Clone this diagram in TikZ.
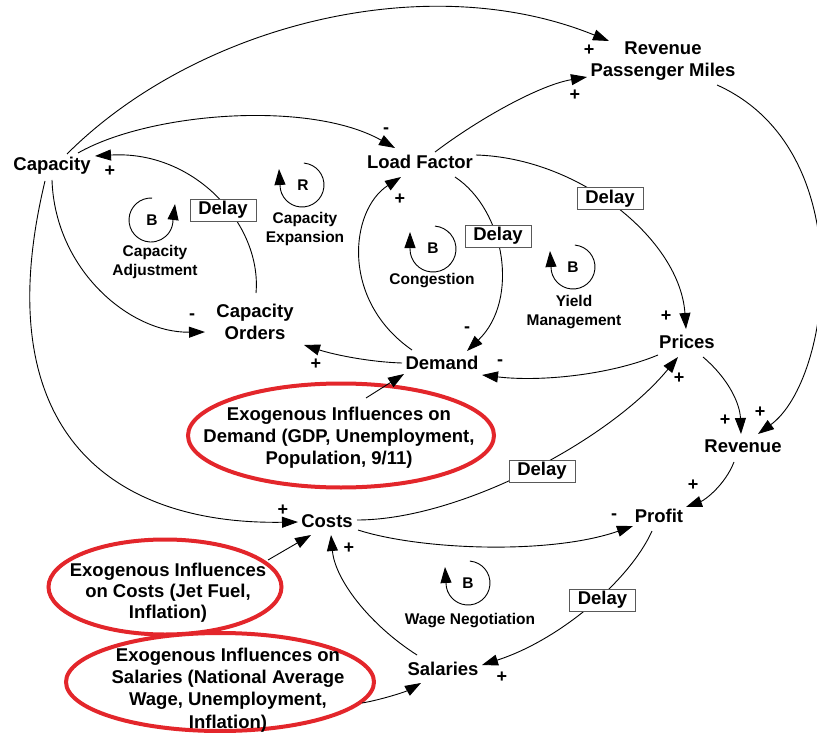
\documentclass[tikz,border=0pt]{standalone}
\usepackage{fontspec}
\setmainfont{Liberation Sans}
\usetikzlibrary{arrows.meta,shapes.geometric}
\definecolor{exored}{HTML}{E3262B}
\begin{document}
\begin{tikzpicture}[x=1pt,y=-1pt,
  var/.style={font=\fontsize{18.5}{22}\selectfont\bfseries, align=center, inner sep=1pt},
  sign/.style={font=\fontsize{18}{18}\selectfont\bfseries, inner sep=0pt},
  looplbl/.style={font=\fontsize{15.5}{18.8}\selectfont\bfseries, align=center, inner sep=0pt},
  loopletter/.style={font=\fontsize{15.5}{15.5}\selectfont\bfseries, inner sep=0pt},
  delaybox/.style={draw=black!65, line width=0.9pt, fill=white,
    font=\fontsize{18.5}{18.5}\selectfont\bfseries,
    minimum width=66pt, minimum height=22pt, inner sep=0pt},
  exo/.style={draw=exored, line width=4pt, ellipse, inner sep=0pt},
  exotext/.style={font=\fontsize{18.5}{22.2}\selectfont\bfseries, align=center, inner sep=0pt},
  link/.style={line width=0.9pt, -{Triangle[length=16pt,width=11pt]}},
  loopline/.style={line width=0.9pt, -{Triangle[length=16pt,width=11pt]}},
]
\useasboundingbox (0,0) rectangle (817,733);
\clip (0,0) rectangle (817,733);

% exogenous influences
\node[exo, minimum width=306pt, minimum height=104pt] (exd) at (341,435.5) {};
\node[exotext] (exdT) at (339,437.5) {Exogenous Influences on\\Demand (GDP, Unemployment,\\Population, 9/11)};
\node[exo, minimum width=233pt, minimum height=95pt] (exc) at (165,587) {};
\node[exotext, font=\fontsize{18.5}{21}\selectfont\bfseries] (excT) at (168,592.5) {Exogenous Influences\\on Costs (Jet Fuel,\\Inflation)};
\node[exo, minimum width=308pt, minimum height=98pt] (exs) at (220,682) {};
\node[exotext] (exsT) at (228,690) {Exogenous Influences on\\Salaries (National Average\\Wage, Unemployment,\\Inflation)};

% variables
\node[var] (cap)   at (52,166)  {Capacity};
\node[var] (rpm)   at (663,61)  {Revenue\\Passenger Miles};
\node[var] (lf)    at (420,162) {Load Factor};
\node[var] (cord)  at (255,322) {Capacity\\Orders};
\node[var] (dem)   at (442,363) {Demand};
\node[var] (pri)   at (687,342) {Prices};
\node[var] (rev)   at (743,446) {Revenue};
\node[var] (prof)  at (659,516) {Profit};
\node[var] (costs) at (327,521) {Costs};
\node[var] (sal)   at (443,669) {Salaries};

% causal links
\draw[link] ([shift={(15,-12)}]cap.center) .. controls (194,27) and (424,-34) .. ([shift={(-54,-20)}]rpm.center);
\draw[link] ([shift={(26,-13)}]cap.center) .. controls (150,112) and (310,100) .. ([shift={(-25,-14)}]lf.center);
\draw[link] ([shift={(1,-29)}]cord.center) .. controls (262,225) and (195,150) .. ([shift={(43,-10)}]cap.center);
\draw[link] ([shift={(0,14)}]cap.center) .. controls (55,270) and (130,333) .. ([shift={(-50,10)}]cord.center);
\draw[link] ([shift={(-7,15)}]cap.center) .. controls (-15,430) and (110,525) .. ([shift={(-29,1)}]costs.center);
\draw[link] ([shift={(15,-10)}]lf.center) .. controls (480,118) and (540,85) .. ([shift={(-76,16)}]rpm.center);
\draw[link] ([shift={(56,-7)}]lf.center) .. controls (580,158) and (680,240) .. ([shift={(-1,-13)}]pri.center);
\draw[link] ([shift={(35,15)}]lf.center) .. controls (505,210) and (520,300) .. ([shift={(25,-12)}]dem.center);
\draw[link] ([shift={(-30,-13)}]dem.center) .. controls (340,300) and (350,210) .. ([shift={(-19,15)}]lf.center);
\draw[link] ([shift={(-40,0)}]dem.center) .. controls (370,362) and (335,355) .. ([shift={(49,23)}]cord.center);
\draw[link] ([shift={(-29,13)}]pri.center) .. controls (610,375) and (540,382) .. ([shift={(40,12)}]dem.center);
\draw[link] ([shift={(25,-37.5)}]exd.center) -- ([shift={(-38,11)}]dem.center);
\draw[link] ([shift={(16,15)}]pri.center) .. controls (730,380) and (740,405) .. ([shift={(-2,-12)}]rev.center);
\draw[link] ([shift={(54,24)}]rpm.center) .. controls (862,150) and (832,380) .. ([shift={(15,-12)}]rev.center);
\draw[link] ([shift={(-9,16)}]rev.center) .. controls (725,485) and (705,500) .. ([shift={(27,-9)}]prof.center);
\draw[link] ([shift={(31,9)}]costs.center) .. controls (420,550) and (550,555) .. ([shift={(-26,10)}]prof.center);
\draw[link] ([shift={(30,-1)}]costs.center) .. controls (460,520) and (610,440) .. ([shift={(-9,15)}]pri.center);
\draw[link] ([shift={(103,-27)}]exc.center) -- ([shift={(-16,14)}]costs.center);
\draw[link] ([shift={(-26,-14)}]sal.center) .. controls (370,625) and (335,580) .. ([shift={(4,14)}]costs.center);
\draw[link] ([shift={(-7,15)}]prof.center) .. controls (630,580) and (560,640) .. ([shift={(39,-4)}]sal.center);
\draw[link] ([shift={(142,21)}]exs.center) .. controls (380,700) and (405,692) .. ([shift={(-22,14)}]sal.center);

% delays on links
\node[delaybox] (d1) at (223,210)   {Delay};
\node[delaybox] (d2) at (610,198.5) {Delay};
\node[delaybox] (d3) at (498,236)   {Delay};
\node[delaybox] (d4) at (542,471)   {Delay};
\node[delaybox] (d5) at (602.5,600) {Delay};

% link polarities
\node[sign] (s1)  at (110,171) {+};
\node[sign] (s2)  at (589,50)  {+};
\node[sign] (s3)  at (575,95)  {+};
\node[sign] (s4)  at (386,131) {-};
\node[sign] (s5)  at (400,199) {+};
\node[sign] (s6)  at (192,317) {-};
\node[sign] (s7)  at (316,364) {+};
\node[sign] (s8)  at (467,330) {-};
\node[sign] (s9)  at (500,363) {-};
\node[sign] (s10) at (666,316) {+};
\node[sign] (s11) at (679,378) {+};
\node[sign] (s12) at (725,420) {+};
\node[sign] (s13) at (760,412) {+};
\node[sign] (s14) at (693,485) {+};
\node[sign] (s15) at (614,517) {-};
\node[sign] (s16) at (283,510) {+};
\node[sign] (s17) at (349,548) {+};
\node[sign] (s18) at (502,677) {+};

% feedback loop markers
\draw[loopline] ([shift={(-87:22)}]151,220) arc[start angle=-87, end angle=-360, radius=22] -- ++(2,-16);
\node[loopletter] (lB1) at (152,220) {B};
\node[looplbl] (lB1t) at (155,262) {Capacity\\Adjustment};

\draw[loopline] ([shift={(-85:22)}]302,185) arc[start angle=-85, end angle=180, radius=22] -- ++(-1,-16);
\node[loopletter] (lR) at (303,185) {R};
\node[looplbl] (lRt) at (305,229) {Capacity\\Expansion};

\draw[loopline] ([shift={(-85:23)}]433,249) arc[start angle=-85, end angle=180, radius=23] -- ++(0,-17);
\node[loopletter] (lB2) at (433,248) {B};
\node[looplbl] (lB2t) at (432,281) {Congestion};

\draw[loopline] ([shift={(-85:22)}]573,267) arc[start angle=-85, end angle=180, radius=22] -- ++(-1,-16);
\node[loopletter] (lB3) at (573,267) {B};
\node[looplbl] (lB3t) at (574,312) {Yield\\Management};

\draw[loopline] ([shift={(-85:22)}]468,583) arc[start angle=-85, end angle=180, radius=22] -- ++(-1,-16);
\node[loopletter] (lB4) at (468,583) {B};
\node[looplbl] (lB4t) at (470,621) {Wage Negotiation};
\end{tikzpicture}
\end{document}
